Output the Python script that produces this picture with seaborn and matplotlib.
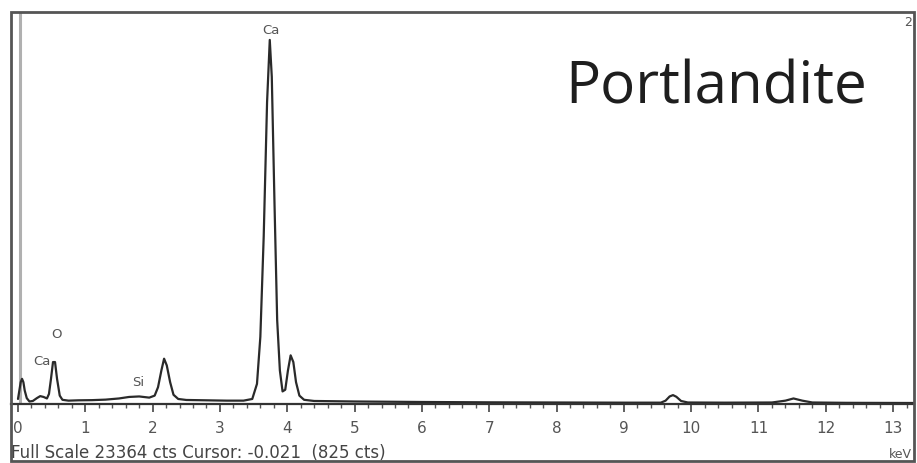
import matplotlib
matplotlib.use("Agg")
import matplotlib.pyplot as plt
import seaborn as sns
import pandas as pd
from matplotlib.patches import Rectangle

# ---- data ----
energy_kev = [0.00, 0.02, 0.04, 0.06, 0.08, 0.10, 0.13, 0.17, 0.22, 0.28, 0.33, 0.38,
              0.43, 0.46, 0.49, 0.52, 0.55, 0.58, 0.62, 0.66, 0.75, 0.90, 1.10, 1.30,
              1.50, 1.65, 1.80, 1.95, 2.03, 2.08, 2.13, 2.17, 2.21, 2.26, 2.31, 2.38,
              2.50, 2.80, 3.10, 3.35, 3.48, 3.55, 3.60, 3.65, 3.70, 3.74, 3.77, 3.81,
              3.85, 3.89, 3.93, 3.97, 4.01, 4.05, 4.09, 4.13, 4.18, 4.25, 4.40, 5.00,
              6.00, 7.00, 8.00, 9.00, 9.55, 9.62, 9.68, 9.73, 9.78, 9.85, 9.95, 10.50,
              11.20, 11.40, 11.52, 11.65, 11.80, 12.30, 13.30]
counts = [300, 800, 1300, 1500, 1300, 800, 350, 150, 180, 350, 470, 420,
          330, 600, 1500, 2500, 2500, 1500, 500, 250, 200, 220, 230, 260,
          330, 420, 450, 380, 500, 1000, 2000, 2700, 2300, 1300, 550, 300,
          240, 220, 200, 200, 300, 1200, 4000, 10000, 18000, 21700, 19500, 12000,
          5000, 2000, 750, 850, 2000, 2900, 2500, 1300, 500, 250, 180, 150,
          120, 100, 90, 80, 80, 200, 450, 530, 430, 180, 90, 80,
          90, 200, 330, 200, 90, 70, 60]

peak_labels = ["Ca", "O", "Ca", "Si"]
peak_label_kev = [3.75, 0.57, 0.36, 1.79]
peak_label_cts = [22250, 4150, 2550, 1300]

tick_values = list(range(0, 14))
tick_labels = [str(v) for v in tick_values]

full_scale = 23364
status_text = "Full Scale 23364 cts Cursor: -0.021  (825 cts)"
title_text = "Portlandite"
cursor_kev = 0.03

# ---- figure ----
sns.set_style("white")
plt.rcParams['font.family'] = ['DejaVu Sans']

W, H = 917, 463
fig = plt.figure(figsize=(W / 100, H / 100), dpi=100)

def fx(px):
    return px / W

def fy(py):
    return (H - py) / H

ax = fig.add_axes([fx(11), fy(404), fx(914) - fx(11), fy(12) - fy(404)])
ax.set_facecolor("white")

df = pd.DataFrame({"keV": energy_kev, "cts": counts})
sns.lineplot(data=df, x="keV", y="cts", ax=ax, color="#2a2a2a", linewidth=1.6,
             estimator=None, sort=False)

ax.axvline(cursor_kev, color="#b0b0b0", linewidth=2.2, zorder=0)

ax.set_xlim(-0.104, 13.31)
ax.set_ylim(0, full_scale)

for sp in ["top", "left", "right"]:
    ax.spines[sp].set_visible(False)
ax.spines["bottom"].set_color("#333333")
ax.spines["bottom"].set_linewidth(1.6)

ax.set_xticks(tick_values)
ax.set_xticklabels(tick_labels)
ax.set_xticks([v / 5 for v in range(0, 67)], minor=True)
ax.tick_params(axis="x", which="major", direction="out", length=6, width=1.2,
               color="#444444", labelsize=11, labelcolor="#555555", pad=6,
               bottom=True)
ax.tick_params(axis="x", which="minor", direction="out", length=3, width=1.0,
               color="#555555", bottom=True)
ax.set_yticks([])
ax.set_xlabel("")
ax.set_ylabel("")

for lab, xk, yc in zip(peak_labels, peak_label_kev, peak_label_cts):
    ax.text(xk, yc, lab, ha="center", va="center", fontsize=9.5, color="#555555")

# outer frame
fig.patches.append(Rectangle((fx(11), fy(461)), fx(914) - fx(11), fy(12) - fy(461),
                             transform=fig.transFigure, fill=False,
                             edgecolor="#555555", linewidth=2.0))

fig.text(fx(565), fy(104), title_text, ha="left", va="baseline",
         fontsize=42, color="#1e1e1e", family=["Open Sans", "DejaVu Sans"])
fig.text(fx(11), fy(453), status_text, ha="left", va="center",
         fontsize=12, color="#444444")
fig.text(fx(912), fy(455), "keV", ha="right", va="center",
         fontsize=9, color="#555555")
fig.text(fx(908), fy(23), "2", ha="center", va="center",
         fontsize=9, color="#555555")

fig.savefig("out.png", dpi=100)
